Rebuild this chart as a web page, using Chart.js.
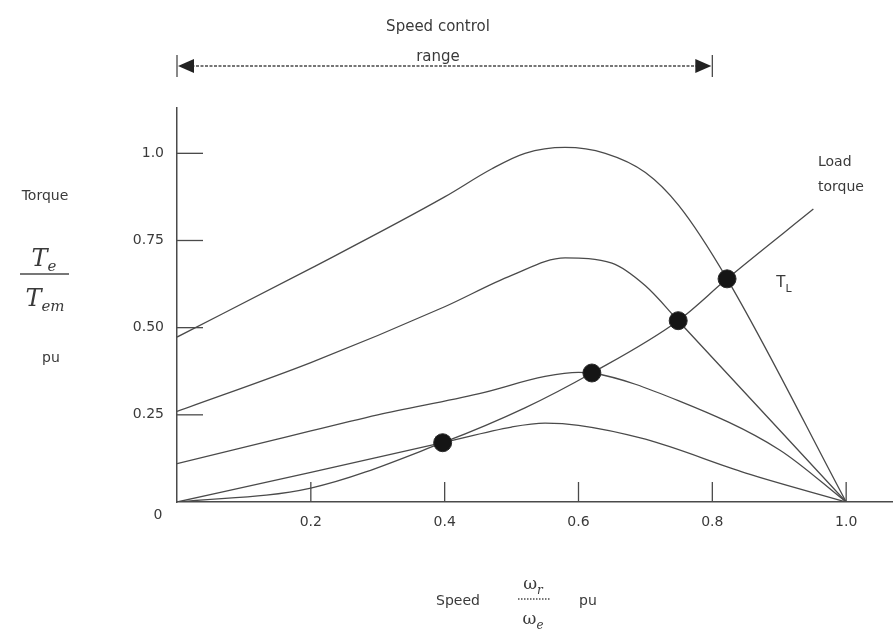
<!DOCTYPE html>
<html>
<head>
<meta charset="utf-8">
<script src="https://cdn.jsdelivr.net/npm/chart.js@4.4.1/dist/chart.umd.min.js"></script>
<style>
  html, body { margin: 0; padding: 0; background: #fff; }
  #chart { display: block; }
</style>
</head>
<body>
<canvas id="chart" width="893" height="635"></canvas>
<script>
// axis ticks
const xTicks = [0.2, 0.4, 0.6, 0.8, 1.0];
const xTickLabels = ['0.2', '0.4', '0.6', '0.8', '1.0'];
const yTicks = [0, 0.25, 0.5, 0.75, 1.0];
const yTickLabels = ['0', '0.25', '0.50', '0.75', '1.0'];

// motor torque-speed curves (speed pu, torque pu), top to bottom
const curve1X = [0, 0.2, 0.4, 0.47, 0.52, 0.58, 0.64, 0.7, 0.75, 0.822, 1.0];
const curve1Y = [0.473, 0.67, 0.875, 0.955, 1.0, 1.017, 1.0, 0.945, 0.85, 0.64, 0];
const curve2X = [0, 0.2, 0.4, 0.5, 0.58, 0.65, 0.7, 0.749, 1.0];
const curve2Y = [0.26, 0.40, 0.56, 0.65, 0.70, 0.685, 0.62, 0.52, 0];
const curve3X = [0, 0.15, 0.3, 0.45, 0.55, 0.6, 0.62, 0.75, 0.9, 1.0];
const curve3Y = [0.11, 0.18, 0.25, 0.31, 0.36, 0.372, 0.37, 0.29, 0.15, 0];
const curve4X = [0, 0.2, 0.397, 0.5, 0.55, 0.6, 0.7, 0.85, 1.0];
const curve4Y = [0, 0.085, 0.17, 0.215, 0.226, 0.22, 0.18, 0.083, 0];

// load torque T_L
const loadX = [0, 0.2, 0.397, 0.52, 0.62, 0.749, 0.822, 0.951];
const loadY = [0, 0.04, 0.17, 0.27, 0.37, 0.52, 0.64, 0.84];

// operating points (intersections)
const opX = [0.397, 0.62, 0.749, 0.822];
const opY = [0.17, 0.37, 0.52, 0.64];

// speed control range arrow
const speedRange = [0, 0.8];

const lineColor = '#4a4a4a';
const textColor = '#3a3a3a';

function toPoints(xs, ys) {
    return xs.map((x, i) => ({ x: x, y: ys[i] }));
}

function curve(xs, ys) {
    return {
        data: toPoints(xs, ys),
        borderColor: lineColor,
        borderWidth: 1.3,
        pointRadius: 0,
        fill: false,
        cubicInterpolationMode: 'monotone'
    };
}

// text with a subscript, centred on x
function subText(ctx, main, sub, x, y, mainFont, subFont) {
    ctx.font = mainFont;
    const w1 = ctx.measureText(main).width;
    ctx.font = subFont;
    const w2 = ctx.measureText(sub).width;
    const left = x - (w1 + w2) / 2;
    ctx.textAlign = 'left';
    ctx.textBaseline = 'alphabetic';
    ctx.font = mainFont;
    ctx.fillText(main, left, y);
    ctx.font = subFont;
    ctx.fillText(sub, left + w1, y + 5);
}

const annotations = {
    id: 'annotations',
    afterDraw(chart) {
        const ctx = chart.ctx;
        const xs = chart.scales.x;
        const ys = chart.scales.y;
        const x0 = xs.getPixelForValue(0);
        const y0 = ys.getPixelForValue(0);
        ctx.save();
        ctx.strokeStyle = lineColor;
        ctx.fillStyle = textColor;
        ctx.lineWidth = 1.3;

        // inward tick marks
        xTicks.forEach(v => {
            const px = xs.getPixelForValue(v);
            ctx.beginPath();
            ctx.moveTo(px, y0);
            ctx.lineTo(px, y0 - 20);
            ctx.stroke();
        });
        yTicks.slice(1).forEach(v => {
            const py = ys.getPixelForValue(v);
            ctx.beginPath();
            ctx.moveTo(x0, py);
            ctx.lineTo(x0 + 26, py);
            ctx.stroke();
        });

        // origin label sits below the axis
        ctx.font = '14px "DejaVu Sans"';
        ctx.textAlign = 'center';
        ctx.textBaseline = 'middle';
        ctx.fillText(yTickLabels[0], x0 - 19, y0 + 13);

        // speed control range arrow
        const ax1 = xs.getPixelForValue(speedRange[0]);
        const ax2 = xs.getPixelForValue(speedRange[1]);
        const ay = 66;
        ctx.setLineDash([3, 1.5]);
        ctx.beginPath();
        ctx.moveTo(ax1 + 10, ay);
        ctx.lineTo(ax2 - 10, ay);
        ctx.stroke();
        ctx.setLineDash([]);
        ctx.fillStyle = '#222';
        ctx.beginPath();
        ctx.moveTo(ax1 + 1, ay);
        ctx.lineTo(ax1 + 17, ay - 7);
        ctx.lineTo(ax1 + 17, ay + 7);
        ctx.closePath();
        ctx.fill();
        ctx.beginPath();
        ctx.moveTo(ax2 - 1, ay);
        ctx.lineTo(ax2 - 17, ay - 7);
        ctx.lineTo(ax2 - 17, ay + 7);
        ctx.closePath();
        ctx.fill();
        ctx.beginPath();
        ctx.moveTo(ax1, ay - 11);
        ctx.lineTo(ax1, ay + 11);
        ctx.moveTo(ax2, ay - 11);
        ctx.lineTo(ax2, ay + 11);
        ctx.stroke();

        ctx.fillStyle = textColor;
        ctx.font = '15px "DejaVu Sans"';
        ctx.textAlign = 'center';
        ctx.textBaseline = 'middle';
        ctx.fillText('Speed control', 438, 27);
        ctx.fillText('range', 438, 57);

        // load torque labels
        ctx.font = '14px "DejaVu Sans"';
        ctx.textAlign = 'left';
        ctx.fillText('Load', 818, 162);
        ctx.fillText('torque', 818, 187);
        subText(ctx, 'T', 'L', 784, 287, '15px "DejaVu Sans"', '11px "DejaVu Sans"');

        // y axis title
        ctx.textAlign = 'center';
        ctx.textBaseline = 'middle';
        ctx.font = '14px "DejaVu Sans"';
        ctx.fillText('Torque', 45, 196);
        subText(ctx, 'T', 'e', 44, 266, 'italic 24px "DejaVu Serif"', 'italic 15px "DejaVu Serif"');
        ctx.beginPath();
        ctx.moveTo(20, 274);
        ctx.lineTo(69, 274);
        ctx.stroke();
        subText(ctx, 'T', 'em', 45, 306, 'italic 24px "DejaVu Serif"', 'italic 15px "DejaVu Serif"');
        ctx.textAlign = 'center';
        ctx.textBaseline = 'middle';
        ctx.font = '14px "DejaVu Sans"';
        ctx.fillText('pu', 51, 358);

        // x axis title
        ctx.fillText('Speed', 458, 601);
        ctx.fillText('pu', 588, 601);
        subText(ctx, '\u03c9', 'r', 533, 589, '17px "DejaVu Serif"', 'italic 12px "DejaVu Serif"');
        ctx.setLineDash([1.5, 1.5]);
        ctx.beginPath();
        ctx.moveTo(518, 599);
        ctx.lineTo(550, 599);
        ctx.stroke();
        ctx.setLineDash([]);
        subText(ctx, '\u03c9', 'e', 533, 624, '17px "DejaVu Serif"', 'italic 12px "DejaVu Serif"');

        ctx.restore();
    }
};

const tickFont = { family: 'DejaVu Sans', size: 14 };

new Chart(document.getElementById('chart'), {
    type: 'line',
    data: {
        datasets: [
            {
                data: toPoints(opX, opY),
                showLine: false,
                pointRadius: 9,
                pointBackgroundColor: '#151515',
                pointBorderColor: '#2a2a2a',
                pointBorderWidth: 1
            },
            curve(curve1X, curve1Y),
            curve(curve2X, curve2Y),
            curve(curve3X, curve3Y),
            curve(curve4X, curve4Y),
            curve(loadX, loadY)
        ]
    },
    options: {
        responsive: false,
        animation: false,
        devicePixelRatio: 1,
        layout: { autoPadding: false, padding: { top: 108, left: 0, right: 0, bottom: 0 } },
        plugins: {
            legend: { display: false },
            tooltip: { enabled: false }
        },
        scales: {
            x: {
                type: 'linear',
                min: 0,
                max: 1.07,
                grid: { display: false, drawTicks: false },
                border: { display: true, color: lineColor, width: 1.5 },
                afterBuildTicks: s => { s.ticks = xTicks.map(v => ({ value: v })); },
                afterFit: s => { s.height = 133; s.paddingRight = 0; s.paddingLeft = 0; },
                ticks: {
                    autoSkip: false,
                    maxRotation: 0,
                    padding: 12,
                    color: textColor,
                    font: tickFont,
                    callback: (v) => xTickLabels[xTicks.indexOf(v)]
                }
            },
            y: {
                type: 'linear',
                min: 0,
                max: 1.13,
                grid: { display: false, drawTicks: false },
                border: { display: true, color: lineColor, width: 1.5 },
                afterBuildTicks: s => { s.ticks = yTicks.map(v => ({ value: v })); },
                afterFit: s => { s.width = 177; },
                ticks: {
                    autoSkip: false,
                    padding: 13,
                    color: textColor,
                    font: tickFont,
                    // the origin "0" is drawn by the plugin, lower down
                    callback: (v) => v === 0 ? '' : yTickLabels[yTicks.indexOf(v)]
                }
            }
        }
    },
    plugins: [annotations]
});
</script>
</body>
</html>
